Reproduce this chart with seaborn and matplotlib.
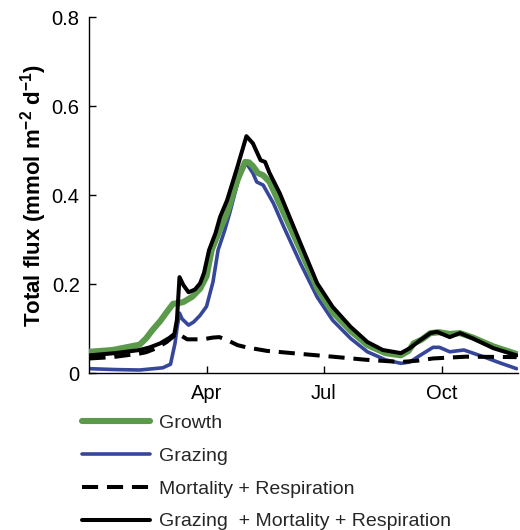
import matplotlib
matplotlib.use("Agg")
import matplotlib.pyplot as plt
import seaborn as sns

sns.set_theme(style="ticks")
plt.rcParams["font.family"] = ["Liberation Sans", "DejaVu Sans"]
plt.rcParams["mathtext.fontset"] = "custom"
plt.rcParams["mathtext.bf"] = "Liberation Sans:bold"
plt.rcParams["mathtext.rm"] = "Liberation Sans:bold"
plt.rcParams["mathtext.default"] = "bf"

# Day of year for each sampled point
growth_day = [0, 18, 39, 44, 49, 55, 60, 65, 70, 73, 80, 86, 91, 95, 101, 107, 115, 121,
              124, 127, 131, 135, 140, 151, 164, 177, 189, 203, 216, 230, 242, 248, 252,
              258, 265, 272, 280, 288, 298, 314, 332]
growth = [0.048, 0.052, 0.064, 0.078, 0.097, 0.117, 0.137, 0.156, 0.158, 0.160, 0.172,
          0.190, 0.218, 0.277, 0.320, 0.360, 0.434, 0.475, 0.474, 0.466, 0.450, 0.445,
          0.430, 0.360, 0.277, 0.191, 0.137, 0.095, 0.063, 0.045, 0.040, 0.050, 0.067,
          0.075, 0.090, 0.092, 0.088, 0.090, 0.080, 0.060, 0.043]

grazing_day = [0, 20, 39, 57, 63, 66.5, 68, 70, 72, 77, 81, 86, 91, 96, 100, 105, 109,
               117, 122, 127, 130, 135, 143, 151, 164, 177, 189, 203, 216, 230, 242, 249,
               257, 267, 272, 280, 291, 306, 320, 332]
grazing = [0.010, 0.008, 0.007, 0.012, 0.020, 0.067, 0.100, 0.135, 0.122, 0.108, 0.115,
           0.130, 0.150, 0.205, 0.277, 0.320, 0.360, 0.449, 0.472, 0.450, 0.430, 0.423,
           0.382, 0.329, 0.247, 0.171, 0.119, 0.078, 0.048, 0.030, 0.022, 0.025, 0.040,
           0.058, 0.058, 0.048, 0.052, 0.037, 0.022, 0.010]

mort_day = [0, 18, 39, 44, 52, 60, 65, 68, 72, 76, 88, 96, 101, 108, 115, 122, 138, 146,
            165, 189, 215, 242, 255, 267, 293, 332]
mortality = [0.033, 0.036, 0.044, 0.047, 0.056, 0.070, 0.082, 0.090, 0.083, 0.076,
             0.076, 0.080, 0.081, 0.073, 0.063, 0.058, 0.050, 0.048, 0.043, 0.037, 0.030,
             0.025, 0.028, 0.033, 0.037, 0.036]

total_day = [0, 20, 39, 47, 55, 62, 66, 68, 70, 73, 77, 82, 86, 89, 93, 98, 101.5, 107,
             115, 122, 127, 133, 136.5, 140, 148, 164, 177, 189, 203, 216, 228, 242, 249,
             257, 265, 270, 280, 288, 298, 314, 332]
total = [0.040, 0.045, 0.052, 0.058, 0.067, 0.079, 0.088, 0.120, 0.216, 0.198, 0.182,
         0.188, 0.202, 0.225, 0.277, 0.315, 0.351, 0.389, 0.464, 0.533, 0.517, 0.479,
         0.475, 0.450, 0.404, 0.292, 0.202, 0.149, 0.104, 0.070, 0.052, 0.045, 0.056,
         0.074, 0.090, 0.093, 0.081, 0.090, 0.078, 0.056, 0.040]

month_ticks = [91, 182, 274]
month_labels = ["Apr", "Jul", "Oct"]

labels = ["Growth", "Grazing", "Mortality + Respiration",
          "Grazing  + Mortality + Respiration"]

green = "#5a9a4a"
blue = "#36479b"

fig = plt.figure(figsize=(5.2, 5.3), dpi=100)
ax = fig.add_axes([0.172, 0.296, 0.824, 0.671])

sns.lineplot(x=grazing_day, y=grazing, ax=ax, color=blue, lw=2.6, label=labels[1],
             zorder=2)
sns.lineplot(x=growth_day, y=growth, ax=ax, color=green, lw=4.4, label=labels[0],
             zorder=3)
sns.lineplot(x=mort_day, y=mortality, ax=ax, color="black", lw=2.9, label=labels[2],
             zorder=4)
ax.lines[-1].set_dashes((4, 2.2))
sns.lineplot(x=total_day, y=total, ax=ax, color="black", lw=2.9, label=labels[3],
             zorder=5)

ax.set_xlim(0, 333)
ax.set_ylim(0, 0.8)
ax.set_yticks([0, 0.2, 0.4, 0.6, 0.8])
ax.set_yticklabels(["0", "0.2", "0.4", "0.6", "0.8"])
ax.set_xticks(month_ticks)
ax.set_xticklabels(month_labels)
ax.tick_params(direction="in", length=5, width=1, labelsize=14.5, colors="black",
               pad=7)
ax.tick_params(axis="x", pad=8)
for s in ["top", "right"]:
    ax.spines[s].set_visible(False)
for s in ["left", "bottom"]:
    ax.spines[s].set_color("black")
    ax.spines[s].set_linewidth(1)

ax.set_ylabel(r"Total flux (mmol m$^{-2}$ d$^{-1}$)", fontsize=16,
              fontweight="bold", labelpad=2, color="black")
ax.set_xlabel("")

handles, hl = ax.get_legend_handles_labels()
order = [hl.index(l) for l in labels]
ax.legend_.remove()
fig.legend([handles[i] for i in order], [hl[i] for i in order],
           loc="upper left", bbox_to_anchor=(0.158, 0.218), frameon=False,
           fontsize=14.0, handlelength=3.5, handletextpad=0.47, labelspacing=0.78,
           borderpad=0, borderaxespad=0)

fig.savefig("out.png", dpi=100)
